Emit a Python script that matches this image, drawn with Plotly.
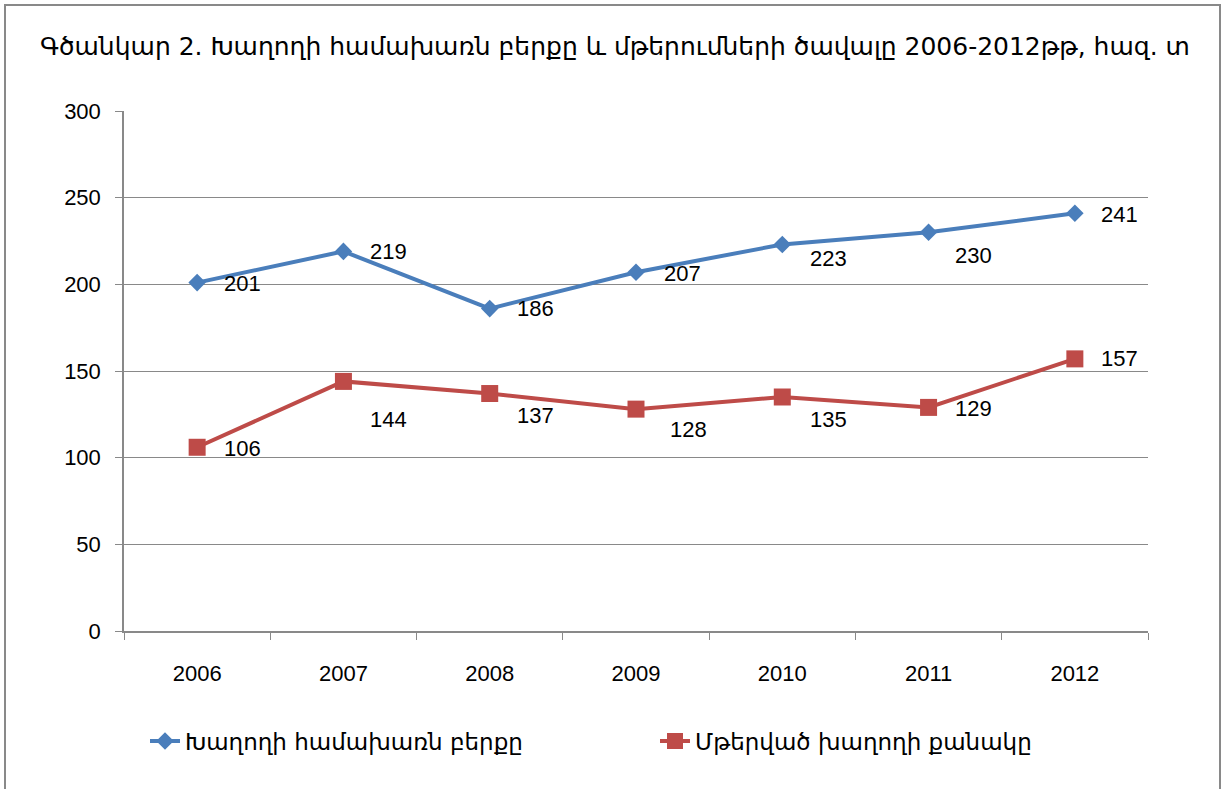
import plotly.graph_objects as go

years = ['2006', '2007', '2008', '2009', '2010', '2011', '2012']
total = [201, 219, 186, 207, 223, 230, 241]
lost = [106, 144, 137, 128, 135, 129, 157]

name_total = 'Խաղողի համախառն բերքը'
name_lost = 'Մթերված խաղողի քանակը'
title = 'Գծանկար 2. Խաղողի համախառն բերքը և մթերումների ծավալը 2006-2012թթ, հազ. տ'

blue = '#4A7EBB'
red = '#BE4B48'
grey = '#898989'

# label offsets (px) like the excel data labels
off_total = [(45, -1), (45, 0), (46, 0), (46, -1), (46, -14), (45, -23), (45, -1)]
off_lost = [(45, -1), (45, -38), (46, -22), (52, -20), (46, -22), (45, -1), (45, 0)]

fig = go.Figure()
fig.add_trace(go.Scatter(x=years, y=total, name=name_total, mode='lines+markers',
                         line=dict(color=blue, width=4),
                         marker=dict(symbol='diamond', size=13.5, color=blue)))
fig.add_trace(go.Scatter(x=years, y=lost, name=name_lost, mode='lines+markers',
                         line=dict(color=red, width=4),
                         marker=dict(symbol='square', size=17, color=red)))

# data labels, x as category index
for ys, offs in ((total, off_total), (lost, off_lost)):
    for i, (y, (dx, dy)) in enumerate(zip(ys, offs)):
        fig.add_annotation(x=i, y=y, xref='x', yref='y', text=str(y), showarrow=False,
                           xshift=dx, yshift=dy,
                           font=dict(family='Liberation Sans', size=22, color='black'))

# outer frame
fig.add_shape(type='rect', xref='paper', yref='paper',
              x0=(5 - 124) / 1024, x1=(1220 - 124) / 1024,
              y0=-0.35, y1=(631 - 5) / 520,
              line=dict(color=grey, width=2))

fig.update_layout(
    width=1225, height=789, autosize=False,
    margin=dict(l=124, r=77, t=111, b=158, autoexpand=False),
    paper_bgcolor='white', plot_bgcolor='white',
    title=dict(text=title, x=615 / 1225, xanchor='center',
               y=1 - 46 / 789, yanchor='middle',
               font=dict(family='DejaVu Sans', size=25, color='black')),
    xaxis=dict(type='category', range=[-0.5, 6.5], showline=True, linecolor=grey,
               linewidth=1.5, ticks='outside', tickson='boundaries', ticklen=7,
               tickcolor=grey, showgrid=False, tickangle=0, automargin=False,
               ticklabelstandoff=22,
               tickfont=dict(family='Liberation Sans', size=22, color='black')),
    yaxis=dict(range=[0, 300], dtick=50, showline=True, linecolor=grey, linewidth=1.5,
               ticks='outside', ticklen=7, tickcolor=grey, gridcolor=grey, gridwidth=1,
               zeroline=False, automargin=False, ticklabelstandoff=10,
               tickfont=dict(family='Liberation Sans', size=22, color='black')),
    showlegend=True,
    legend=dict(orientation='h', xref='container', x=145 / 1225, xanchor='left',
                y=(631 - 741) / 520, yanchor='middle', entrywidth=465,
                font=dict(family='DejaVu Sans', size=23, color='black')),
)

fig.write_html('out.html', config={'displayModeBar': False},
               post_script="document.body.style.margin='0';")
